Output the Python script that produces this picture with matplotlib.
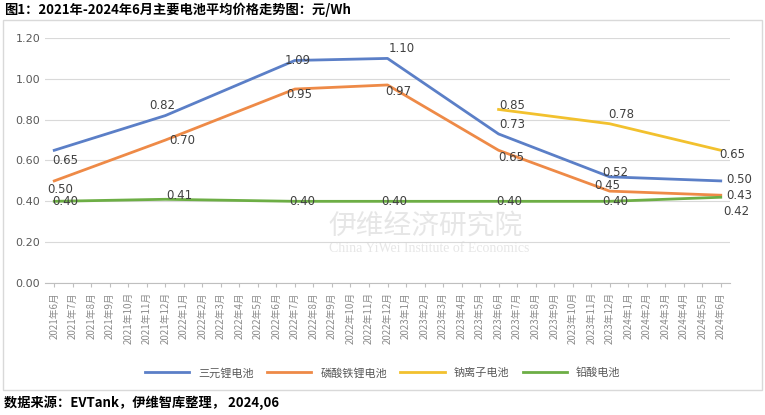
import matplotlib
matplotlib.use("Agg")
import matplotlib.pyplot as plt
import numpy as np

plt.rcParams['font.family'] = ['Noto Sans CJK SC', 'DejaVu Sans']

months = []
y, m = 2021, 6
for _ in range(37):
    months.append(f"{y}年{m}月")
    m += 1
    if m > 12:
        m = 1; y += 1

series_names = ["三元锂电池", "磷酸铁锂电池", "钠离子电池", "铅酸电池"]
colors = ["#5B7FC7", "#EE8A47", "#F2C12E", "#6DAE45"]
idx_main = [0, 6, 13, 18, 24, 30, 36]
ncm = [0.65, 0.82, 1.09, 1.10, 0.73, 0.52, 0.50]
lfp = [0.50, 0.70, 0.95, 0.97, 0.65, 0.45, 0.43]
idx_na = [24, 30, 36]
sodium = [0.85, 0.78, 0.65]
lead = [0.40, 0.41, 0.40, 0.40, 0.40, 0.40, 0.42]

W, H = 765, 415
fig = plt.figure(figsize=(W/100, H/100), dpi=100)
ax = fig.add_axes([45/W, 1-283/H, 685/W, 245/H])

fig.text(0.43, 1-226/H, "伊维经济研究院", fontsize=20, color="#d6d6d6", alpha=0.6, ha="left", va="center", zorder=0)
fig.text(0.43, 1-248/H, "China YiWei Institute of Economics", fontsize=10, color="#d6d6d6",
         alpha=0.6, ha="left", va="center", family="Liberation Serif", zorder=0)

ax.patch.set_alpha(0)
ax.plot(idx_main, ncm, color=colors[0], lw=2, label=series_names[0])
ax.plot(idx_main, lfp, color=colors[1], lw=2, label=series_names[1])
ax.plot(idx_na, sodium, color=colors[2], lw=2, label=series_names[2])
ax.plot(idx_main, lead, color=colors[3], lw=2, label=series_names[3])

fs = 8.5
tc = "#404040"
def lab(xs, ys, offs):
    for x, v, (dx, dy) in zip(xs, ys, offs):
        ax.annotate(f"{v:.2f}", (x, v), xytext=(dx, dy), textcoords="offset points",
                    fontsize=fs, color=tc, ha="center", va="center", family="DejaVu Sans")
lab(idx_main, ncm, [(8, -7), (-2, 7), (2, 0), (10, 7), (10, 7), (4, 3), (13, 1)])
lab(idx_main, lfp, [(4, -6), (12, 0), (3, -4), (8, -5), (9, -5), (-2, 4), (13, 0)])
lab(idx_na, sodium, [(10, 3), (8, 7), (8, -3)])
lab(idx_main, lead, [(8, 0), (10, 3), (5, 0), (5, 0), (8, 0), (4, 0), (11, -10)])

ax.set_xlim(-0.5, 36.5)
ax.set_ylim(0, 1.2)
ax.set_yticks(np.arange(0, 1.21, 0.2))
ax.set_yticklabels([f"{v:.2f}" for v in np.arange(0, 1.21, 0.2)], fontsize=8, color="#595959", family="DejaVu Sans")
ax.set_xticks(range(37))
ax.set_xticklabels(months, rotation=90, fontsize=7, color="#8c8c8c")
ax.tick_params(axis="y", length=0)
ax.tick_params(axis="x", length=3, color="#bfbfbf")
ax.grid(axis="y", color="#d9d9d9", lw=0.8)
for s in ["top", "right", "left"]:
    ax.spines[s].set_visible(False)
ax.spines["bottom"].set_color("#bfbfbf")

fig.legend(loc="center", bbox_to_anchor=(0.5, 1-373/H), ncol=4, frameon=False,
           fontsize=8, handlelength=4, columnspacing=1.2, labelcolor="#595959")

fig.text(0.005, 1-10/H, "图1：2021年-2024年6月主要电池平均价格走势图：元/Wh", fontsize=9.5,
         fontweight="bold", va="center", ha="left")
fig.text(0.005, 1-403/H, "数据来源：EVTank，伊维智库整理， 2024,06", fontsize=9.5,
         fontweight="bold", va="center", ha="left")
fig.patches.append(plt.Rectangle((3/W, 1-390/H), 759/W, 370/H, transform=fig.transFigure,
                                 fill=False, ec="#d9d9d9", lw=1))
fig.savefig("out.png", dpi=100)
